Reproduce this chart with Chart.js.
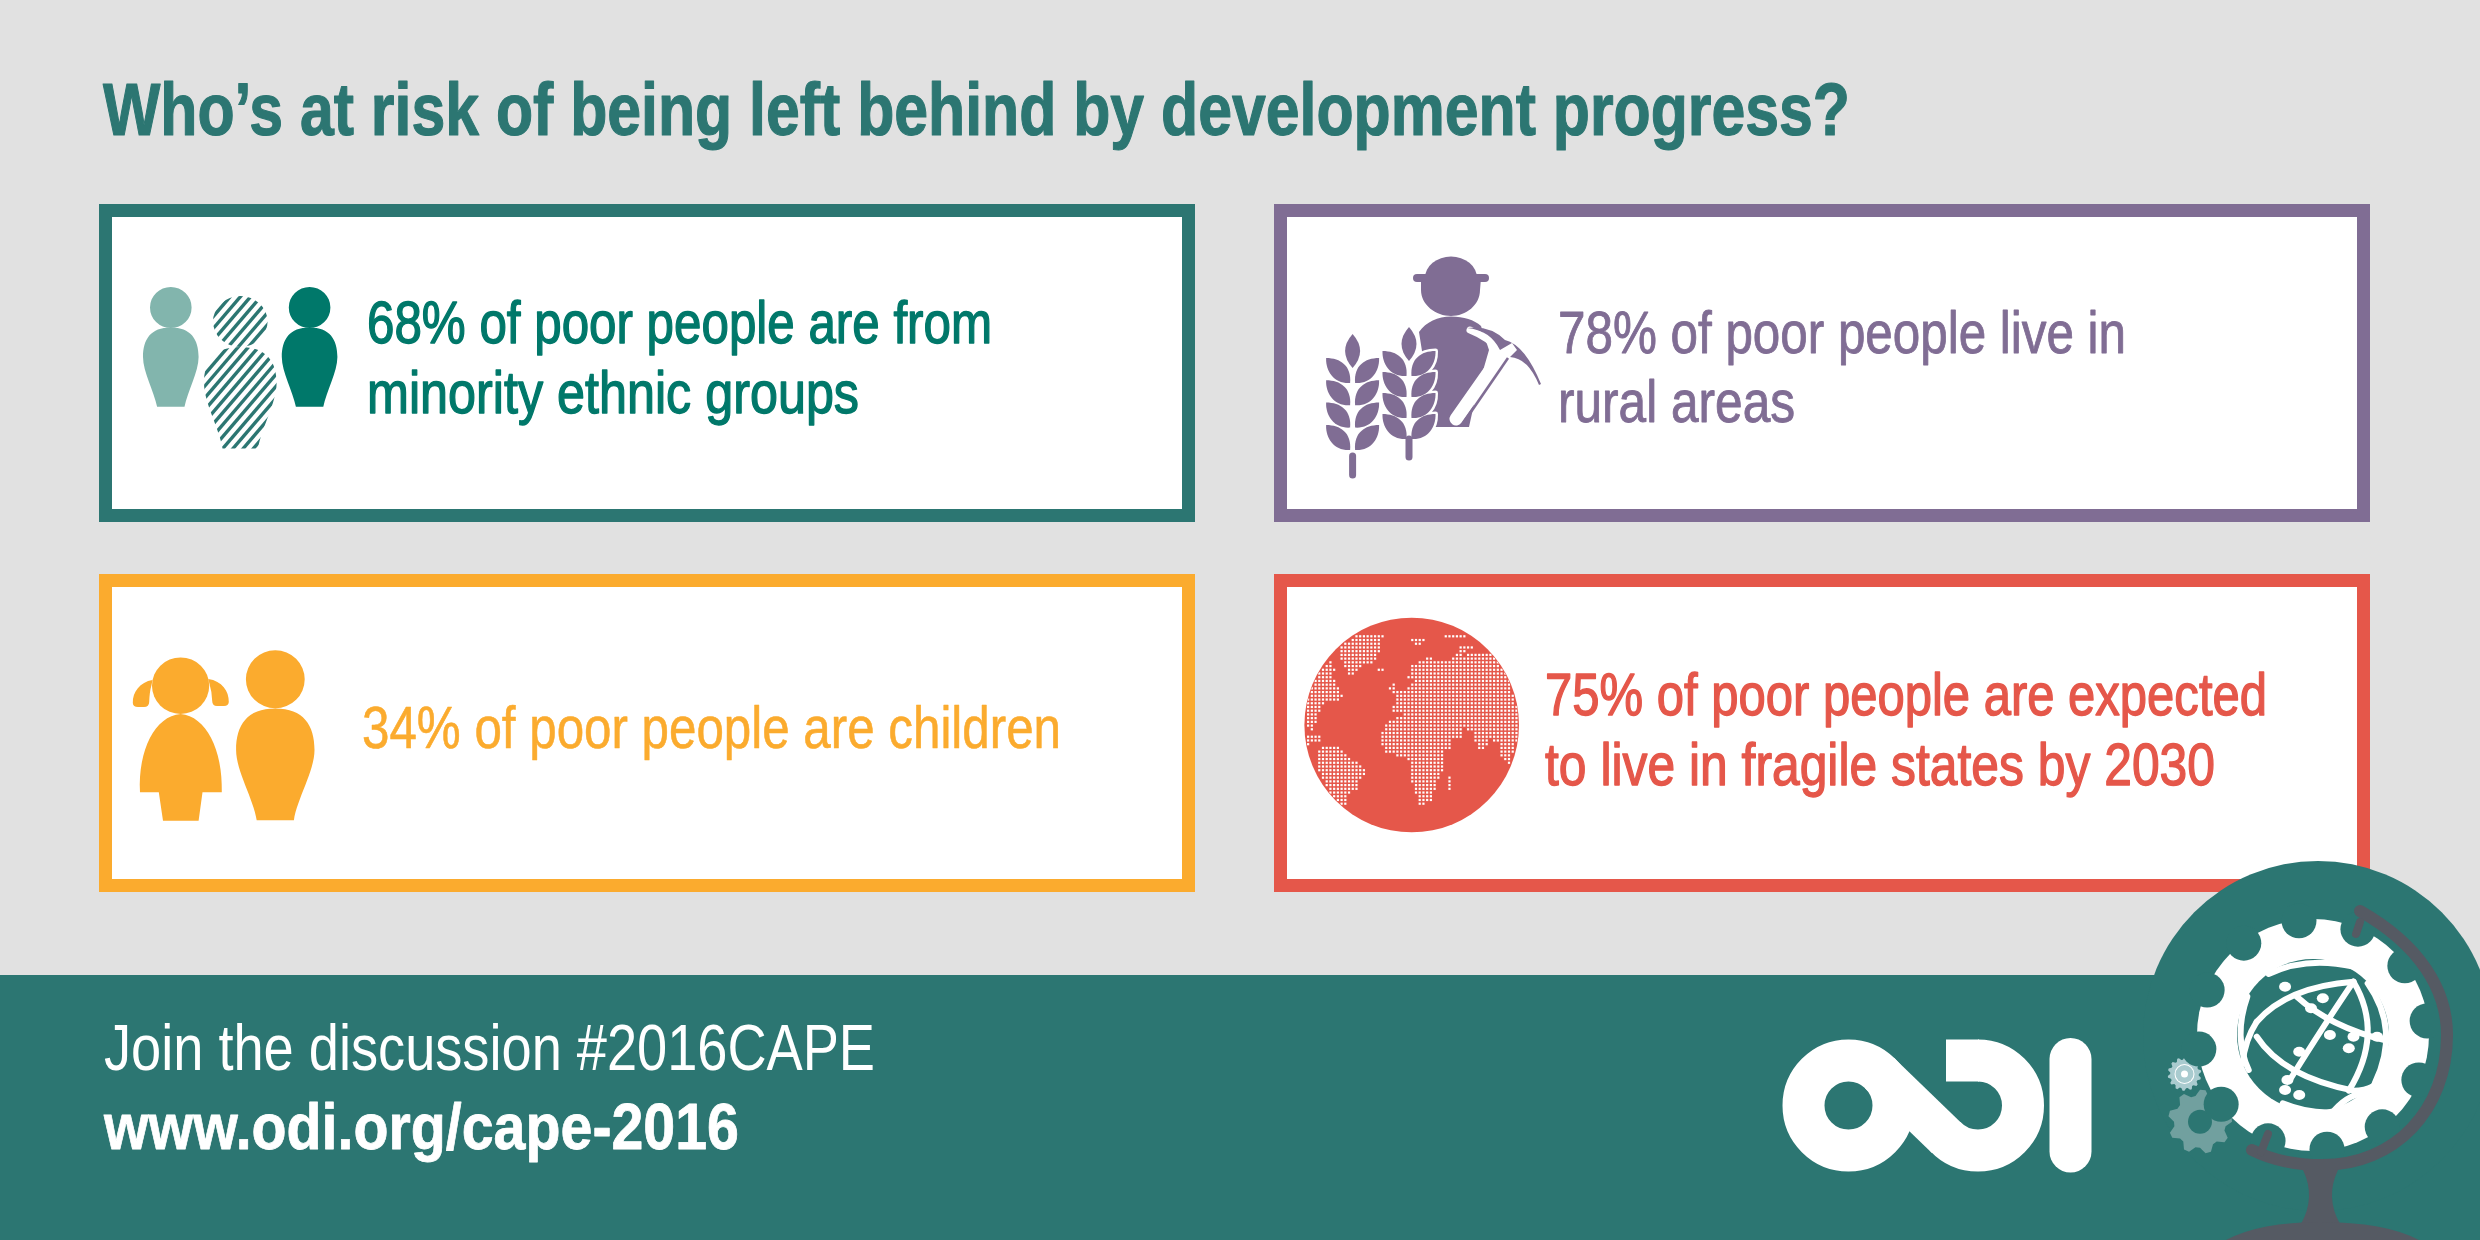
<!DOCTYPE html>
<html>
<head>
<meta charset="utf-8">
<title>Who's at risk of being left behind</title>
<script src="https://cdn.jsdelivr.net/npm/chart.js@4"></script>
<style>
  html, body { margin: 0; padding: 0; background: #e1e1e1; }
  canvas { display: block; }
</style>
</head>
<body>
<canvas id="chart" width="2480" height="1240"></canvas>
<script>
// chart content
var titleText = 'Who\u2019s at risk of being left behind by development progress?';
var shares = [68, 78, 34, 75];
var statements = [
    ['% of poor people are from', 'minority ethnic groups'],
    ['% of poor people live in', 'rural areas'],
    ['% of poor people are children'],
    ['% of poor people are expected', 'to live in fragile states by 2030']
];
var panelColumn = [0, 1, 0, 1];
var panelRow = [0, 0, 1, 1];
var footerLines = ['Join the discussion #2016CAPE', 'www.odi.org/cape-2016'];

// colours
var BG = '#e1e1e1', TEAL = '#2c7672', GREEN = '#00786a', PALE = '#82b5ad',
    PURPLE = '#806d94', ORANGE = '#fbab2e', RED = '#e5574a', STAND = '#555a63';
var borderColors = [TEAL, PURPLE, ORANGE, RED];
var textColors = [GREEN, PURPLE, ORANGE, RED];

// layout, page pixels
var columnX = [[99, 1195], [1274, 2370]];
var rowY = [[204, 522], [574, 892]];
var BORDER = 13;
// per text line: x, baseline, width, extra stroke
var textBoxes = [
    [[367, 343, 625, 1.4], [367, 413, 492, 1.4]],
    [[1558, 353, 568, 0.9], [1558, 422, 237, 0.9]],
    [[362, 748, 699, 0.6]],
    [[1545, 715, 722, 1.4], [1545, 785, 670, 1.4]]
];

function fitText(ctx, text, x, y, width, font, color, extra) {
    ctx.font = font;
    ctx.fillStyle = color;
    ctx.textAlign = 'left';
    ctx.textBaseline = 'alphabetic';
    ctx.fillText(text, x, y, width);
    if (extra) {
        ctx.strokeStyle = color;
        ctx.lineWidth = extra;
        ctx.lineJoin = 'round';
        ctx.strokeText(text, x, y, width);
    }
}

function ell(ctx, x, y, rx, ry) {
    ctx.beginPath();
    ctx.ellipse(x, y, rx, ry, 0, 0, Math.PI * 2);
    ctx.fill();
}

function personPath(ctx, p, cx) {
    ctx.moveTo(cx + p.rx, p.head);
    ctx.ellipse(cx, p.head, p.rx, p.ry, 0, 0, Math.PI * 2);
    ctx.moveTo(cx, p.top);
    ctx.bezierCurveTo(cx + p.w * 0.72, p.top, cx + p.w, p.mid - (p.mid - p.top) * 0.6, cx + p.w, p.mid);
    ctx.bezierCurveTo(cx + p.w, p.mid + (p.bottom - p.mid) * 0.3, cx + p.b + 3, p.bottom - (p.bottom - p.mid) * 0.3, cx + p.b, p.bottom);
    ctx.lineTo(cx - p.b, p.bottom);
    ctx.bezierCurveTo(cx - p.b - 3, p.bottom - (p.bottom - p.mid) * 0.3, cx - p.w, p.mid + (p.bottom - p.mid) * 0.3, cx - p.w, p.mid);
    ctx.bezierCurveTo(cx - p.w, p.mid - (p.mid - p.top) * 0.6, cx - p.w * 0.72, p.top, cx, p.top);
    ctx.closePath();
}

function drawGroupIcon(ctx) {
    var small = { head: 307.5, rx: 20.8, ry: 20.6, top: 327.5, mid: 357, w: 27.8, bottom: 406.7, b: 13.7 };
    ctx.fillStyle = PALE;
    ctx.beginPath(); personPath(ctx, small, 170.8); ctx.fill();
    ctx.fillStyle = GREEN;
    ctx.beginPath(); personPath(ctx, small, 309.6); ctx.fill();

    // hatched figure
    var big = { head: 321.5, rx: 27.3, ry: 25.5, top: 347, mid: 383, w: 36.3, bottom: 448.5, b: 17.8 };
    ctx.save();
    ctx.beginPath(); personPath(ctx, big, 240.3); ctx.clip();
    ctx.strokeStyle = TEAL;
    ctx.lineWidth = 3.4;
    for (var k = 0; k < 40; k++) {
        var sx = 60 + k * 10.2;
        ctx.beginPath();
        ctx.moveTo(sx, 460);
        ctx.lineTo(sx + 190, 460 - 190 * 1.17);
        ctx.stroke();
    }
    ctx.restore();
}

function leaf(ctx, x0, y0, c1x, c1y, x1, y1, c2x, c2y) {
    ctx.beginPath();
    ctx.moveTo(x0, y0);
    ctx.quadraticCurveTo(c1x, c1y, x1, y1);
    ctx.quadraticCurveTo(c2x, c2y, x0, y0);
    ctx.closePath();
}

function wheat(ctx, cx, tipY, pairGap, stalkTop, stalkBottom, outlined) {
    function all(paint) {
        leaf(ctx, cx, tipY, cx + 15, tipY + 17, cx, tipY + 34, cx - 15, tipY + 17); paint();
        for (var i = 0; i < 4; i++) {
            var y = tipY + 24 + i * pairGap;
            [1, -1].forEach(function (s) {
                ctx.beginPath();
                ctx.moveTo(cx + s * 2.5, y + 25);
                ctx.bezierCurveTo(cx + s * 1, y + 8, cx + s * 12, y, cx + s * 26.5, y);
                ctx.bezierCurveTo(cx + s * 27, y + 14, cx + s * 18, y + 26, cx + s * 2.5, y + 25);
                ctx.closePath();
                paint();
            });
        }
    }
    if (outlined) {
        ctx.strokeStyle = '#fff';
        ctx.lineWidth = 5;
        ctx.lineJoin = 'round';
        all(function () { ctx.stroke(); });
    }
    ctx.fillStyle = PURPLE;
    all(function () { ctx.fill(); });
    ctx.strokeStyle = PURPLE;
    ctx.lineWidth = 7;
    ctx.lineCap = 'round';
    ctx.beginPath();
    ctx.moveTo(cx, stalkTop);
    ctx.lineTo(cx, stalkBottom);
    ctx.stroke();
    ctx.lineCap = 'butt';
}

function drawFarmerIcon(ctx) {
    ctx.fillStyle = PURPLE;
    // hat and face
    ctx.beginPath();
    ctx.ellipse(1451, 278, 26, 21.5, 0, Math.PI, Math.PI * 2);
    ctx.fill();
    ctx.lineCap = 'round';
    ctx.strokeStyle = PURPLE;
    ctx.lineWidth = 8;
    ctx.beginPath(); ctx.moveTo(1417, 278); ctx.lineTo(1485, 278); ctx.stroke();
    ctx.lineCap = 'butt';
    ctx.beginPath();
    ctx.moveTo(1421, 278);
    ctx.lineTo(1481, 278);
    ctx.lineTo(1480, 290);
    ctx.bezierCurveTo(1480, 305, 1466, 316, 1451, 316);
    ctx.bezierCurveTo(1436, 316, 1421, 305, 1421, 290);
    ctx.closePath();
    ctx.fill();
    // body
    ctx.beginPath();
    ctx.moveTo(1419, 332);
    ctx.bezierCurveTo(1426, 322, 1438, 316.5, 1451, 316.5);
    ctx.bezierCurveTo(1464, 316.5, 1474, 320, 1481, 326);
    ctx.lineTo(1489, 350);
    ctx.lineTo(1476, 395);
    ctx.lineTo(1469, 427);
    ctx.lineTo(1434, 427);
    ctx.closePath();
    ctx.fill();
    // pick handle
    ctx.lineCap = 'round';
    ctx.strokeStyle = '#fff';
    ctx.lineWidth = 13;
    ctx.beginPath(); ctx.moveTo(1456, 419); ctx.lineTo(1503, 352); ctx.stroke();
    ctx.lineWidth = 7;
    ctx.beginPath(); ctx.moveTo(1470, 330); ctx.quadraticCurveTo(1490, 338, 1498, 350); ctx.stroke();
    ctx.strokeStyle = PURPLE;
    ctx.lineWidth = 2.6;
    ctx.lineCap = 'butt';
    ctx.beginPath(); ctx.moveTo(1462, 425); ctx.lineTo(1508, 358); ctx.stroke();
    // pick head
    ctx.fillStyle = PURPLE;
    ctx.beginPath();
    ctx.moveTo(1467, 328);
    ctx.quadraticCurveTo(1490, 330, 1500, 350);
    ctx.lineTo(1512, 343);
    ctx.lineTo(1517, 350);
    ctx.lineTo(1510, 357);
    ctx.quadraticCurveTo(1528, 358, 1539, 385);
    ctx.lineTo(1541, 384);
    ctx.quadraticCurveTo(1525, 345, 1505, 340);
    ctx.quadraticCurveTo(1490, 325, 1467, 328);
    ctx.closePath();
    ctx.fill();
    wheat(ctx, 1352.6, 334, 22.3, 456, 475, false);
    wheat(ctx, 1409, 327, 21, 439, 457, true);
}

function drawChildrenIcon(ctx) {
    ctx.fillStyle = ORANGE;
    // girl
    ell(ctx, 180.6, 685.7, 28.6, 28.3);
    ctx.beginPath();
    ctx.moveTo(180.6, 714);
    ctx.bezierCurveTo(155, 716, 138, 750, 140, 792.3);
    ctx.lineTo(158.8, 792.3);
    ctx.lineTo(163, 820.7);
    ctx.lineTo(198.6, 820.7);
    ctx.lineTo(202.5, 792.3);
    ctx.lineTo(221.8, 792.3);
    ctx.bezierCurveTo(223, 750, 206, 716, 180.6, 714);
    ctx.closePath();
    ctx.fill();
    // pigtails
    ctx.beginPath();
    ctx.moveTo(152.5, 680);
    ctx.bezierCurveTo(140, 682, 132.5, 692, 132.8, 703);
    ctx.quadraticCurveTo(133, 707, 138, 707);
    ctx.lineTo(144, 707);
    ctx.quadraticCurveTo(149, 707, 149.2, 702);
    ctx.quadraticCurveTo(149.5, 692, 151.5, 685);
    ctx.closePath();
    ctx.fill();
    ctx.beginPath();
    ctx.moveTo(208.3, 679);
    ctx.bezierCurveTo(222, 681, 229, 691, 228.8, 702);
    ctx.quadraticCurveTo(228.5, 706, 224, 706);
    ctx.lineTo(217, 706);
    ctx.quadraticCurveTo(212.3, 706, 212.2, 701);
    ctx.quadraticCurveTo(212, 692, 209.5, 684);
    ctx.closePath();
    ctx.fill();
    // boy
    ctx.beginPath();
    personPath(ctx, { head: 679.3, rx: 29.4, ry: 29, top: 708.5, mid: 750, w: 39.2, bottom: 820.3, b: 18.6 }, 275.3);
    ctx.fill();
}

// rough land outlines on the globe
var LAND = [
    [[290,190],[385,190],[370,205],[358,210],[358,240],[345,275],[310,285],[280,318],[265,318],[245,275],[235,240]],
    [[210,270],[225,295],[215,320],[240,360],[250,385],[195,400],[175,435],[165,470],[165,490],[135,460],[135,430],[150,360],[175,310]],
    [[150,490],[205,505],[185,510],[135,530],[135,510]],
    [[170,535],[230,530],[260,555],[310,590],[315,610],[290,640],[290,660],[262,670],[255,710],[245,710],[210,670],[175,600]],
    [[350,292],[378,292],[378,308],[350,308]],
    [[455,210],[500,200],[500,215],[470,225]],
    [[548,190],[620,190],[620,205],[548,205]],
    [[580,265],[600,232],[640,232],[610,245],[595,265]],
    [[445,325],[450,290],[500,262],[540,270],[560,270],[630,250],[695,250],[740,310],[775,420],[775,500],[765,530],[745,590],[725,560],[715,520],[690,510],[675,545],[655,540],[640,490],[610,470],[605,500],[560,520],[540,480],[520,450],[410,430],[390,425],[410,380],[385,350],[405,335],[415,370],[470,330]],
    [[360,500],[385,450],[440,435],[510,440],[540,480],[580,530],[555,540],[545,620],[530,640],[515,695],[480,710],[470,680],[455,630],[450,570],[405,555],[375,545]],
    [[570,615],[576,650],[562,670],[558,640]]
];

function drawGlobeIcon(ctx) {
    var cx = 1411.7, cy = 725, r = 107.3;
    ctx.fillStyle = RED;
    ell(ctx, cx, cy, r, r);
    ctx.save();
    ctx.beginPath();
    ctx.arc(cx, cy, r - 0.5, 0, Math.PI * 2);
    ctx.clip();
    var land = new Path2D();
    LAND.forEach(function (poly) {
        poly.forEach(function (p, i) {
            var x = 1260 + p[0] / 3, y = 570 + p[1] / 3;
            if (i === 0) land.moveTo(x, y); else land.lineTo(x, y);
        });
        land.closePath();
    });
    ctx.fillStyle = '#fff';
    for (var gy = cy - r; gy < cy + r; gy += 3.72) {
        for (var gx = cx - r; gx < cx + r; gx += 3.72) {
            if (ctx.isPointInPath(land, gx, gy)) {
                ctx.fillRect(gx - 1.1, gy - 1.1, 2.2, 2.2);
            }
        }
    }
    ctx.restore();
}

// logo zoom coordinates to page
function zx(x) { return 1740 + x / 2.119; }
function zy(y) { return 850 + y / 3; }

function drawLogo(ctx) {
    ctx.strokeStyle = '#fff';
    ctx.lineWidth = 42;
    var y = 1105.5;
    ctx.beginPath(); ctx.arc(1848.5, y, 45, 0, Math.PI * 2); ctx.stroke();
    ctx.beginPath(); ctx.arc(1978, y, 45, -Math.PI / 2, Math.PI * 0.76); ctx.stroke();
    ctx.beginPath(); ctx.moveTo(1946, y - 45); ctx.lineTo(1979, y - 45); ctx.stroke();
    ctx.beginPath(); ctx.moveTo(1879.5, y - 32.4); ctx.lineTo(1946.5, y + 32.4); ctx.stroke();
    ctx.lineCap = 'round';
    ctx.beginPath(); ctx.moveTo(2070.5, 1059); ctx.lineTo(2070.5, 1151.5); ctx.stroke();
    ctx.lineCap = 'butt';
}

function drawGear(ctx, cx, cy, r, teeth, toothDepth, color) {
    ctx.fillStyle = color;
    ctx.beginPath();
    for (var i = 0; i < teeth * 4; i++) {
        var a = (i / (teeth * 4)) * Math.PI * 2 - Math.PI / 2;
        var rr = (i % 4 < 2) ? r : r - toothDepth;
        ctx.lineTo(cx + Math.cos(a) * rr, cy + Math.sin(a) * rr);
    }
    ctx.closePath();
    ctx.fill();
}

function drawEmblem(ctx) {
    // teal disc behind the globe
    ctx.fillStyle = TEAL;
    ell(ctx, 2318, 1036, 175, 175);

    // small gears
    drawGear(ctx, 2184.5, 1074, 16.8, 14, 2.5, '#a9cbcf');
    ctx.fillStyle = '#fff'; ell(ctx, 2184.5, 1074, 10, 10);
    ctx.fillStyle = '#a9cbcf'; ell(ctx, 2184.5, 1074, 9, 9);
    ctx.fillStyle = '#fff'; ell(ctx, 2184.5, 1074, 3.5, 3.5);
    drawGear(ctx, 2200, 1121.7, 32, 9, 6, '#71a09f');
    ctx.fillStyle = TEAL; ell(ctx, 2200, 1121.7, 12, 12);

    // big gear
    var cx = 2313, cy = 1035;
    ctx.fillStyle = '#fff';
    ell(ctx, cx, cy, 116, 116);
    ctx.fillStyle = TEAL;
    for (var i = 0; i < 12; i++) {
        var a = (-97 + i * 30) * Math.PI / 180;
        ell(ctx, cx + Math.cos(a) * 115, cy + Math.sin(a) * 115, 17.5, 17.5);
    }
    ell(ctx, cx, cy, 76, 76);

    // globe lines inside the gear
    var lines = [
        [[1300,395],[1160,410],[1095,515]],
        [[1095,515],[1070,570],[1065,640]],
        [[1075,440],[1045,560],[1078,660]],
        [[1120,372],[1200,318],[1300,350]],
        [[1095,560],[1150,680],[1300,722]],
        [[1300,722],[1325,722],[1340,710]],
        [[1300,395],[1240,520],[1165,690]],
        [[1180,440],[1250,530],[1370,572]],
        [[1300,395],[1365,550],[1290,722]],
        [[1330,400],[1400,540],[1345,700]],
        [[1260,780],[1290,730],[1335,725]],
        [[1150,760],[1210,795],[1270,785]]
    ];
    ctx.strokeStyle = '#fff';
    ctx.lineWidth = 6;
    ctx.lineCap = 'round';
    lines.forEach(function (l) {
        ctx.beginPath();
        ctx.moveTo(zx(l[0][0]), zy(l[0][1]));
        ctx.quadraticCurveTo(zx(l[1][0]), zy(l[1][1]), zx(l[2][0]), zy(l[2][1]));
        ctx.stroke();
    });
    ctx.fillStyle = '#fff';
    [[1155,410],[1235,445],[1210,475],[1250,555],[1300,560],[1350,560],[1290,595],[1185,605],[1160,690],[1155,720],[1185,735]].forEach(function (k) {
        ell(ctx, zx(k[0]), zy(k[1]), 6, 5);
    });

    // stand
    ctx.strokeStyle = STAND;
    ctx.lineCap = 'round';
    ctx.lineWidth = 12;
    ctx.beginPath();
    ctx.moveTo(2360, 911);
    ctx.bezierCurveTo(2420, 945, 2447, 990, 2447, 1035);
    ctx.bezierCurveTo(2447, 1110, 2395, 1165, 2322, 1165);
    ctx.bezierCurveTo(2295, 1165, 2272, 1160, 2252, 1150);
    ctx.stroke();
    ctx.lineWidth = 8;
    ctx.beginPath(); ctx.moveTo(2360, 922); ctx.lineTo(2356, 934); ctx.stroke();
    ctx.beginPath(); ctx.moveTo(2268, 1134); ctx.lineTo(2261, 1152); ctx.stroke();
    ctx.fillStyle = STAND;
    ctx.beginPath();
    ctx.moveTo(2303, 1170);
    ctx.quadraticCurveTo(2316, 1197, 2301, 1224);
    ctx.lineTo(2340, 1224);
    ctx.quadraticCurveTo(2325, 1197, 2338, 1170);
    ctx.closePath();
    ctx.fill();
    ctx.beginPath();
    ctx.moveTo(2226, 1240);
    ctx.quadraticCurveTo(2260, 1222, 2320, 1222);
    ctx.quadraticCurveTo(2385, 1222, 2419, 1240);
    ctx.closePath();
    ctx.fill();
    ctx.lineCap = 'butt';
}

var infographic = {
    id: 'infographic',
    beforeDatasetsDraw: function (chart) {
        var ctx = chart.ctx;
        ctx.save();
        ctx.fillStyle = BG;
        ctx.fillRect(0, 0, chart.width, chart.height);

        fitText(ctx, titleText, 103, 135, 1747, 'bold 75px "Liberation Sans"', TEAL, 1.2);

        // panels, one for each point of the dataset
        var meta = chart.getDatasetMeta(0);
        meta.data.forEach(function (pt, i) {
            var xs = columnX[panelColumn[i]], ys = rowY[panelRow[i]];
            ctx.fillStyle = borderColors[i];
            ctx.fillRect(xs[0], ys[0], xs[1] - xs[0], ys[1] - ys[0]);
            ctx.fillStyle = '#fff';
            ctx.fillRect(xs[0] + BORDER, ys[0] + BORDER, xs[1] - xs[0] - BORDER * 2, ys[1] - ys[0] - BORDER * 2);
            statements[i].forEach(function (line, n) {
                var box = textBoxes[i][n];
                var text = (n === 0 ? shares[i] : '') + line;
                fitText(ctx, text, box[0], box[1], box[2], '59px "Liberation Sans"', textColors[i], box[3]);
            });
        });

        drawGroupIcon(ctx);
        drawFarmerIcon(ctx);
        drawChildrenIcon(ctx);
        drawGlobeIcon(ctx);

        // footer band
        ctx.fillStyle = TEAL;
        ctx.fillRect(0, 975, chart.width, chart.height - 975);
        fitText(ctx, footerLines[0], 104, 1070, 771, '65px "Liberation Sans"', '#fff', 0);
        fitText(ctx, footerLines[1], 104, 1149, 635, 'bold 65px "Liberation Sans"', '#fff', 0.8);
        drawLogo(ctx);
        drawEmblem(ctx);
        ctx.restore();
    }
};

new Chart(document.getElementById('chart'), {
    type: 'scatter',
    data: {
        datasets: [{
            label: 'Share of poor people (%)',
            data: shares.map(function (v, i) { return { x: panelColumn[i], y: panelRow[i], share: v }; }),
            pointRadius: 0
        }]
    },
    options: {
        responsive: false,
        animation: false,
        devicePixelRatio: 1,
        layout: { padding: 0 },
        events: [],
        plugins: { legend: { display: false }, tooltip: { enabled: false } },
        scales: {
            x: { display: false, min: 0, max: 1 },
            y: { display: false, min: 0, max: 1, reverse: true }
        }
    },
    plugins: [infographic]
});
</script>
</body>
</html>
